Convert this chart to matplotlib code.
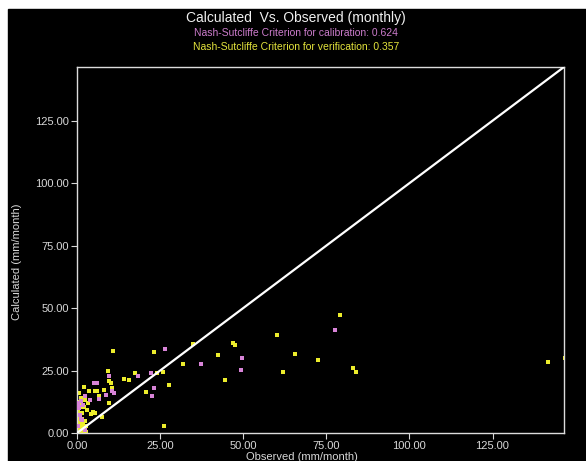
import matplotlib
matplotlib.use("Agg")
import matplotlib.pyplot as plt
from matplotlib.patches import Rectangle

plt.rcParams["font.family"] = ["Liberation Sans", "DejaVu Sans"]

# calibration period (violet)
cal_obs = [26.6, 49.6, 49.2, 37.4, 22.4, 23.1, 22.5, 18.4, 9.7, 10.6, 11.1, 5.1,
           5.9, 6.7, 8.7, 3.9, 2.5, 0.7, 1.0, 1.2, 77.5, 1.9, 0.7, 1.5, 2.4, 0.3,
           0.4, 1.1]
cal_calc = [33.5, 30.2, 25.3, 27.7, 24.0, 18.1, 14.8, 22.8, 23.0, 16.7, 16.0, 20.1,
            20.1, 13.5, 15.1, 13.4, 14.7, 10.2, 7.3, 5.8, 41.2, 11.1, 10.4, 5.2, 1.2, 3.0,
            12.2, 13.0]

# verification period (yellow)
ver_obs = [10.7, 23.3, 35.0, 46.8, 47.5, 42.4, 32.0, 44.6, 26.0, 24.0, 27.6, 20.7,
           26.2, 17.3, 14.2, 15.6, 9.4, 9.7, 10.2, 10.5, 8.0, 2.1, 3.7, 5.4, 5.9,
           6.7, 9.7, 2.5, 3.3, 2.1, 2.9, 4.7, 5.4, 4.2, 7.6, 79.2, 60.1, 65.6, 62.0,
           72.6, 82.9, 84.0, 141.8, 146.8,
           0.5, 1.0, 1.5, 0.3, 0.8, 1.2, 0.5, 1.8, 2.2, 0.2, 1.0, 0.6, 1.5, 0.4,
           1.0, 2.4, 0.1, 0.7, 1.3, 0.2, 0.3, 0.8, 1.6, 2.6, 1.9, 0.9, 0.2, 1.6,
           2.8, 0.6, 0.9, 1.3, 0.5]
ver_calc = [33.0, 32.5, 35.6, 36.2, 35.2, 31.3, 27.5, 21.3, 24.3, 24.0, 19.3, 16.3,
            3.0, 24.0, 21.5, 21.2, 25.0, 21.0, 20.2, 18.0, 17.2, 18.4, 17.0, 17.0, 16.7,
            14.7, 12.0, 13.1, 12.0, 10.4, 9.1, 8.5, 8.1, 7.8, 6.5, 47.2, 39.3, 31.6, 24.3,
            29.4, 25.9, 24.5, 28.3, 30.0,
            0.5, 1.0, 0.8, 2.0, 2.5, 3.5, 4.0, 2.0, 1.0, 5.5, 6.0, 7.0, 8.0, 9.0,
            10.5, 5.0, 0.2, 1.5, 0.3, 1.0, 0.5, 0.3, 1.8, 0.6, 3.2, 4.8, 6.5, 5.6,
            2.8, 11.5, 12.5, 14.0, 16.0]

ticks = [0, 25, 50, 75, 100, 125]
axis_max = 146.5
nse_cal = 0.624
nse_ver = 0.357

fig = plt.figure(figsize=(5.86, 4.61), dpi=100)
fig.patch.set_facecolor("white")
fig.add_artist(Rectangle((8 / 586, 0), 1 - 8 / 586, 1 - 9 / 461,
                         transform=fig.transFigure, color="black", zorder=0))

ax = fig.add_axes([77 / 586, 1 - 433 / 461, 487 / 586, 366 / 461])
ax.set_facecolor("black")

yellow = "#ecec2c"
violet = "#d884d8"
ax.scatter(ver_obs, ver_calc, marker="s", s=9, color=yellow, linewidths=0, zorder=2)
ax.scatter(cal_obs, cal_calc, marker="s", s=9, color=violet, linewidths=0, zorder=3)
ax.plot([0, axis_max], [0, axis_max], color="white", lw=1.6, zorder=4)

ax.set_xlim(0, axis_max)
ax.set_ylim(0, axis_max)
ax.set_xticks(ticks)
ax.set_yticks(ticks)
ax.set_xticklabels([f"{t:.2f}" for t in ticks])
ax.set_yticklabels([f"{t:.2f}" for t in ticks])
ax.tick_params(colors="#d8d8d8", labelsize=8, length=4, width=0.8, pad=2)
for sp in ax.spines.values():
    sp.set_color("#dcdcdc")
    sp.set_linewidth(1.0)

fig.text(0.505, 1 - 18 / 461, "Calculated  Vs. Observed (monthly)", color="#f0f0f0",
         fontsize=10, ha="center", va="center")
fig.text(0.505, 1 - 33 / 461, f"Nash-Sutcliffe Criterion for calibration: {nse_cal:.3f}",
         color="#cc7ccc", fontsize=7.5, ha="center", va="center")
fig.text(0.505, 1 - 47 / 461, f"Nash-Sutcliffe Criterion for verification: {nse_ver:.3f}",
         color="#e4e43c", fontsize=7.5, ha="center", va="center")

fig.text(302 / 586, 1 - 452 / 461, "Observed (mm/month)", color="#d8d8d8",
         fontsize=8, ha="center", va="top")
fig.text(17 / 586, 1 - 262 / 461, "Calculated (mm/month)", color="#d8d8d8",
         fontsize=8, ha="center", va="center", rotation=90)

fig.savefig("out.png", dpi=100, facecolor=fig.get_facecolor())
